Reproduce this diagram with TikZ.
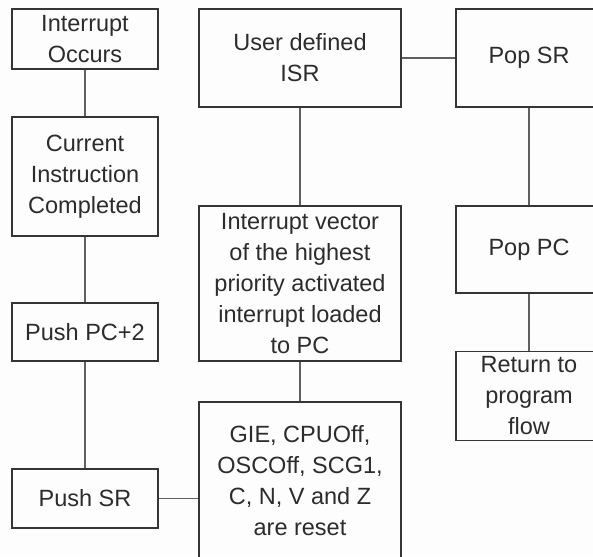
\documentclass[tikz,border=0pt]{standalone}
\usepackage{fontspec}
\setmainfont{Liberation Sans}
\definecolor{bgpaper}{HTML}{FDFDFD}
\definecolor{boxline}{HTML}{353535}
\definecolor{linkline}{HTML}{606060}
\definecolor{boxtext}{HTML}{2C2C2C}
\tikzset{
  stepbox/.style={draw=boxline, line width=1.6pt, rectangle, inner sep=0pt,
    align=center, text=boxtext, font=\fontsize{23.5}{31}\selectfont},
  link/.style={draw=linkline, line width=1.8pt}
}
\begin{document}
\begin{tikzpicture}[x=1pt,y=-1pt]
  \fill[bgpaper] (0,0) rectangle (593,556);
  \clip (0,0) rectangle (593,556);

  % left column: entering the interrupt
  \node[stepbox, minimum width=146pt, minimum height=60pt]  (occ) at (85,39)    {Interrupt\\Occurs};
  \node[stepbox, minimum width=146pt, minimum height=119pt] (cur) at (85,176.5)  {Current\\Instruction\\Completed};
  \node[stepbox, minimum width=146pt, minimum height=58pt]  (ppc) at (85,332)   {Push PC+2};
  \node[stepbox, minimum width=146pt, minimum height=59pt]  (psr) at (85,498.5) {Push SR};

  % middle column
  \node[stepbox, minimum width=202pt, minimum height=98pt]  (isr) at (300,58)   {User defined\\ISR};
  \node[stepbox, minimum width=202pt, minimum height=155pt] (vec) at (300,283.5) {Interrupt vector\\of the highest\\priority activated\\interrupt loaded\\to PC};
  \node[stepbox, minimum width=202pt, minimum height=158pt] (gie) at (300,481)  {GIE, CPUOff,\\OSCOff, SCG1,\\C, N, V and Z\\are reset};

  % right column: return from interrupt
  \node[stepbox, minimum width=146pt, minimum height=98pt]  (psr2) at (529,58)  {Pop SR};
  \node[stepbox, minimum width=146pt, minimum height=87pt]  (ppc2) at (529,249.5) {Pop PC};
  \node[stepbox, minimum width=146pt, minimum height=89pt]  (ret)  at (529,396) {Return to\\program\\flow};

  % connectors
  \draw[link] (occ.south) -- (cur.north);
  \draw[link] (cur.south) -- (ppc.north);
  \draw[link] (ppc.south) -- (psr.north);
  \draw[link] (psr.east) -- (psr.east -| gie.west);
  \draw[link] (gie.north) -- (vec.south);
  \draw[link] (vec.north) -- (isr.south);
  \draw[link] (isr.east) -- (psr2.west);
  \draw[link] (psr2.south) -- (ppc2.north);
  \draw[link] (ppc2.south) -- (ret.north);
\end{tikzpicture}
\end{document}
